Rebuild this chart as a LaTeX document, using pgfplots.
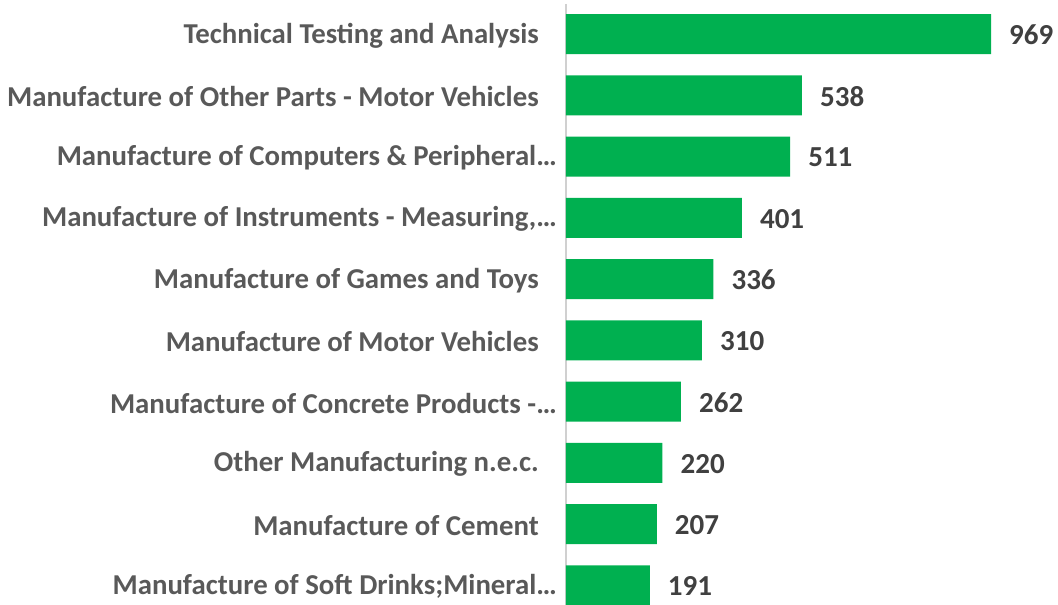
\documentclass[border=0pt]{standalone}
\usepackage{fontspec}
\setmainfont{Carlito}
\usepackage{pgfplots}
\pgfplotsset{compat=1.18}
\definecolor{bargreen}{HTML}{00B050}
\definecolor{labgray}{HTML}{595959}
\definecolor{numgray}{HTML}{404040}
\definecolor{axgray}{HTML}{D0D0D0}
\begin{document}
\begin{tikzpicture}
\useasboundingbox (-566pt,0pt) rectangle (492pt,605pt);
\begin{axis}[
  at={(0pt,0pt)}, anchor=south west,
  scale only axis, width=492pt, height=601pt,
  xbar, bar width=40pt,
  xmin=0, xmax=1121.7, ymin=-0.49, ymax=9.322, y dir=reverse,
  axis x line=none, axis y line*=left,
  y axis line style={draw=axgray, line width=1.6pt},
  ytick={0,...,9}, major tick length=0pt,
  /pgf/number format/assume math mode=true,
  yticklabels={
    {Technical Testing and Analysis\hspace*{18pt}},
    {Manufacture of Other Parts - Motor Vehicles\hspace*{18pt}},
    {Manufacture of Computers \& Peripheral…},
    {Manufacture of Instruments - Measuring,…},
    {Manufacture of Games and Toys\hspace*{18pt}},
    {Manufacture of Motor Vehicles\hspace*{18pt}},
    {Manufacture of Concrete Products -…},
    {Other Manufacturing n.e.c.\hspace*{18pt}},
    {Manufacture of Cement\hspace*{18pt}},
    {Manufacture of Soft Drinks;Mineral…}},
  yticklabel style={font=\fontsize{28.8}{34}\selectfont\bfseries, text=labgray, inner sep=0pt, xshift=-9pt, yshift=-1.5pt},
  nodes near coords,
  every node near coord/.append style={font=\fontsize{29}{34}\selectfont\bfseries, text=numgray, anchor=west, inner sep=0pt, xshift=18pt, yshift=-1pt},
  clip=false,
]
\addplot[fill=bargreen, draw=none] coordinates {
  (969,0) (538,1) (511,2) (401,3) (336,4) (310,5) (262,6) (220,7) (207,8) (191,9)
};
\end{axis}
\end{tikzpicture}
\end{document}
